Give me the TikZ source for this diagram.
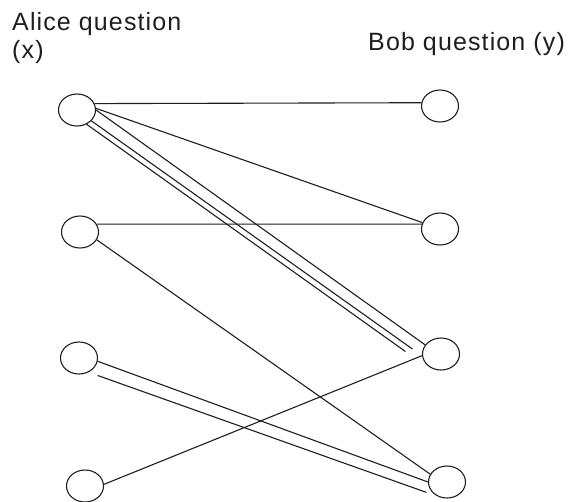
\documentclass[tikz,border=0pt]{standalone}
\usepackage{fontspec}
\setmainfont{Liberation Sans}[LetterSpace=4.5]
\usetikzlibrary{shapes.geometric,calc}
\definecolor{qInk}{HTML}{1E1E1E}
\tikzset{
    qCircle/.style={
        ellipse,
        draw=qInk,
        line width=1.1pt,
        minimum width=37pt,
        minimum height=32pt,
        inner sep=0pt
    },
    qTitle/.style={
        font=\fontsize{25}{28}\selectfont,
        text=qInk,
        inner sep=0pt,
        align=left
    },
    % Links
    qLink/.style={draw=qInk, line width=1.1pt}
}
\begin{document}
\begin{tikzpicture}[x=1pt,y=-1pt]
    \useasboundingbox (0,0) rectangle (575,501);
    \node[qTitle, anchor=north west] (alice) at (12,12.5) {Alice question\\(x)};
    \node[qTitle, anchor=base west] (bob) at (368,50) {Bob question (y)};

    % Alice side
    \node[qCircle] (a1) at (77,110) {};
    \node[qCircle] (a2) at (80,232) {};
    \node[qCircle] (a3) at (79,358) {};
    \node[qCircle] (a4) at (85,486) {};
    % Bob side
    \node[qCircle] (b1) at (440,106) {};
    \node[qCircle] (b2) at (440,229) {};
    \node[qCircle] (b3) at (441,354) {};
    \node[qCircle] (b4) at (447,482) {};

    \draw[qLink] (a1.20) -- (b1.170);
    \draw[qLink] (a1.5) -- (b2.160);
    \draw[qLink] (a1.east) -- (b3.150);
    \draw[qLink] (a1.-37) -- ([xshift=-9.5pt,yshift=5pt]b3.west);
    \draw[qLink] (a1.-56) -- ([xshift=-16.5pt,yshift=2.5pt]b3.west);
    \draw[qLink] (a2.25) -- (b2.165);
    \draw[qLink] (a2.-25) -- (b4.155);
    \draw[qLink] (a3.-10) -- (b4.180);
    \draw[qLink] ([xshift=5pt,yshift=-6pt]a3.-40) -- ([xshift=-3pt,yshift=-4pt]b4.200);
    \draw[qLink] (a4.5) -- (b3.185);
\end{tikzpicture}
\end{document}
